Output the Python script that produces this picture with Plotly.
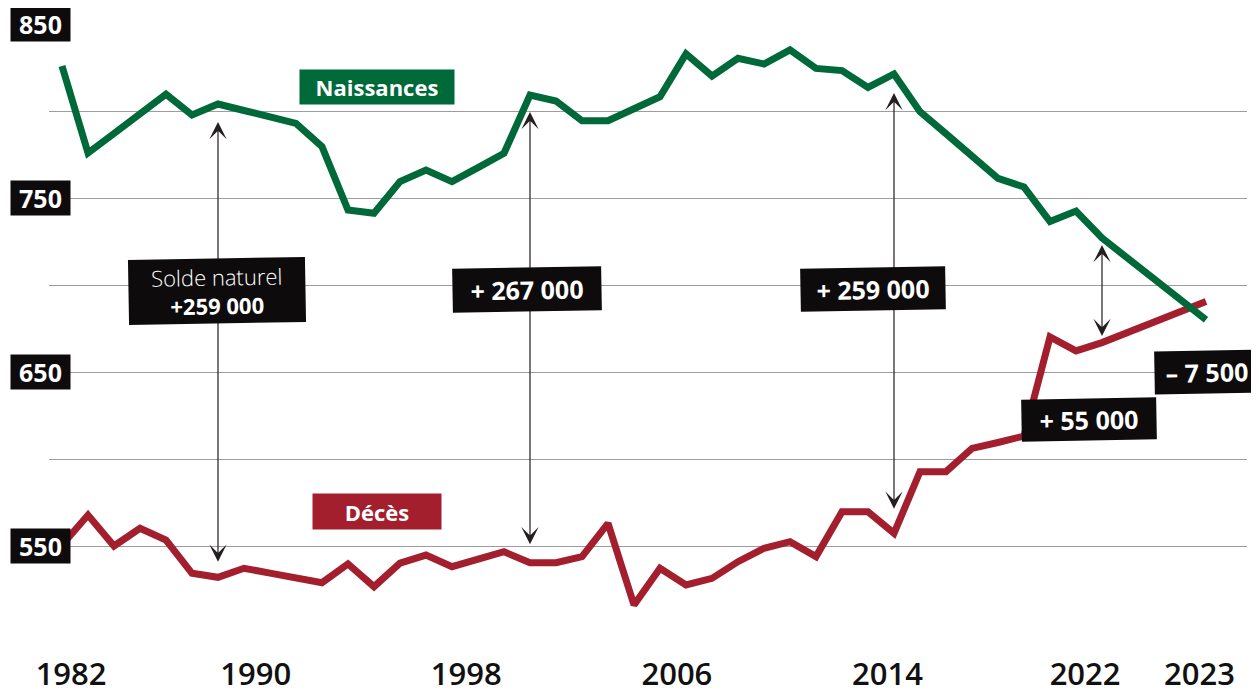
import plotly.graph_objects as go

# ---------------- data (thousands) ----------------
years = list(range(1982, 2024))
naissances = [825.9, 775.9, 787.1, 798.5, 809.6, 797.7, 804.0, 800.3, 796.6, 792.9,
              779.5, 743.1, 741.2, 759.4, 766.1, 759.4, 767.5, 775.7, 809.2, 805.7,
              794.4, 794.4, 801.3, 808.2, 832.8, 820.1, 830.3, 827.0, 835.1, 824.5,
              823.2, 813.6, 821.3, 799.6, 786.9, 774.1, 761.3, 756.3, 736.5, 742.5,
              727.0, 680.0]
deces = [550.6, 567.8, 550.0, 560.2, 553.4, 534.3, 532.0, 537.2, 534.4, 531.7,
         528.9, 539.7, 526.6, 540.1, 544.8, 538.1, 542.4, 546.7, 540.4, 540.4,
         543.9, 563.0, 516.1, 537.2, 527.6, 531.4, 541.0, 548.7, 552.5, 543.9,
         569.7, 569.7, 557.3, 592.7, 592.7, 606.1, 609.5, 613.2, 670.1, 662.1,
         666.9, 690.5]

tick_labels = ["1982", "1990", "1998", "2006", "2014", "2022", "2023"]
y_labels = [850, 750, 650, 550]

arrow_years = [1988, 2000, 2014, 2022]
arrow_texts = ["Solde naturel<br><b>+259 000</b>", "+ 267 000", "+ 259 000", "+ 55 000"]
last_text = "– 7 500"

# ---------------- layout helpers ----------------
LAST_STRETCH = 3.0  # the final (2023) point is drawn further right, as in the original
x_pos = [y if y < 2023 else y + LAST_STRETCH for y in years]
TICK_POS = [1982.35, 1989.45, 1997.55, 2005.65, 2013.75, 2021.35, 2025.75]

GREEN = "#00693a"
RED = "#a31f2e"
BLACK = "#0e0b0c"
GRID = "#9d9d9d"
ARROW = "#231f20"
FONT = "Open Sans"

fig = go.Figure()
fig.add_trace(go.Scatter(x=x_pos, y=deces, mode="lines",
                         line=dict(color=RED, width=7), hoverinfo="skip", showlegend=False))
fig.add_trace(go.Scatter(x=x_pos, y=naissances, mode="lines",
                         line=dict(color=GREEN, width=7), hoverinfo="skip", showlegend=False))

annotations = []

# double arrows between the two curves
stand_top = [18, 17, 19, 7]
stand_bot = [14, 17, 23, 5]
for yr, st, sb in zip(arrow_years, stand_top, stand_bot):
    i = years.index(yr)
    annotations.append(dict(
        x=x_pos[i], y=naissances[i], ax=x_pos[i], ay=deces[i],
        xref="x", yref="y", axref="x", ayref="y", text="",
        showarrow=True, arrowside="end+start", arrowhead=3, startarrowhead=3,
        arrowsize=2.4, startarrowsize=2.4, arrowwidth=1.2, arrowcolor=ARROW,
        standoff=st, startstandoff=sb))

# y-axis labels in black boxes
for v in y_labels:
    annotations.append(dict(
        x=1981.5 + 22 / 26.0, y=v, xref="x", yref="y", xanchor="right", yanchor="middle",
        text=f"<b>{v}</b>", showarrow=False, bgcolor=BLACK, borderpad=0,
        width=59, height=34, font=dict(family=FONT, size=25, color="white")))

# series labels
annotations.append(dict(x=1994.1, y=813.8, xref="x", yref="y", text="<b>Naissances</b>",
                        showarrow=False, bgcolor=GREEN, borderpad=0, width=154, height=34,
                        font=dict(family=FONT, size=22, color="white")))
annotations.append(dict(x=1994.1, y=569.8, xref="x", yref="y", text="<b>Décès</b>",
                        showarrow=False, bgcolor=RED, borderpad=0, width=128, height=35,
                        font=dict(family=FONT, size=22, color="white")))

# balance labels
box_pos = [(1987.96, 696.6, 176, 64), (1999.88, 697.4, 148, 43),
           (2013.2, 697.7, 144, 42), (2021.5, 622.7, 134, 41)]
for txt, (bx, by, w, h) in zip(arrow_texts, box_pos):
    if "Solde" in txt:
        t = "<span style='font-weight:300'>Solde naturel</span><br><b>+259 000</b>"
        fnt = dict(family=FONT, size=22, color="white")
    else:
        t = f"<b>{txt}</b>"
        fnt = dict(family=FONT, size=25, color="white")
    annotations.append(dict(x=bx, y=by, xref="x", yref="y", text=t, showarrow=False,
                            bgcolor=BLACK, borderpad=0, width=w, height=h, textangle=-1,
                            font=fnt))
annotations.append(dict(x=2026.04, y=650, xref="x", yref="y", text=f"<b>{last_text}</b>",
                        showarrow=False, bgcolor=BLACK, borderpad=0, width=104, height=42,
                        textangle=-1, font=dict(family=FONT, size=25, color="white")))

# page body has an 8px margin: the figure is offset to compensate
fig.update_layout(
    width=1251, height=688,
    margin=dict(l=41, r=12, t=16, b=63),
    paper_bgcolor="white", plot_bgcolor="white",
    showlegend=False,
    annotations=annotations,
    xaxis=dict(range=[1981.5, 1982 + 1185 / 26.0], showgrid=False, zeroline=False,
               showline=False, tickmode="array", tickvals=TICK_POS, ticktext=tick_labels,
               ticks="outside", ticklen=14, tickcolor="rgba(0,0,0,0)",
               tickfont=dict(family=FONT, size=31, color="#111111", weight=600),
               automargin=False, fixedrange=True),
    yaxis=dict(range=[500, 850], showgrid=True, gridcolor=GRID, gridwidth=1,
               tickmode="linear", tick0=500, dtick=50, showticklabels=False,
               zeroline=False, showline=False, automargin=False, fixedrange=True),
)

fig.write_html("out.html")
